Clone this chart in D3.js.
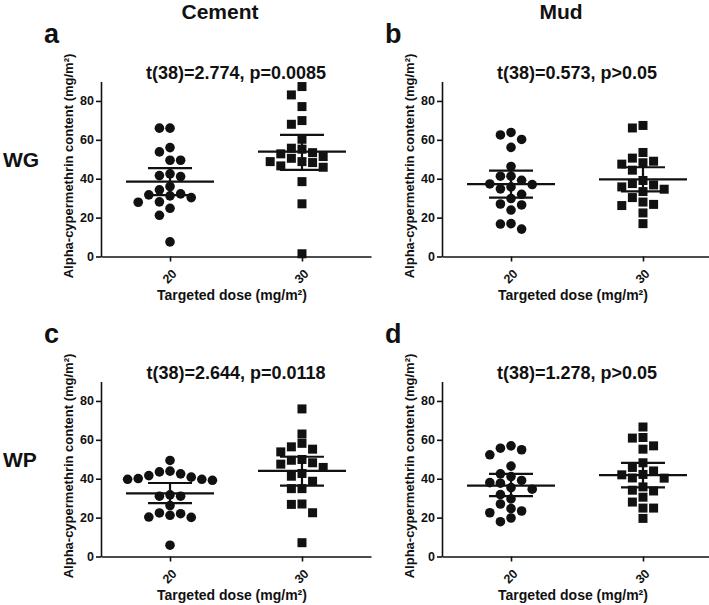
<!DOCTYPE html>
<html>
<head>
<meta charset="utf-8">
<script src="https://cdn.jsdelivr.net/npm/d3@7"></script>
<style>
  body { margin: 0; background: #fff; }
  text { font-family: "Liberation Sans", Arial, Helvetica, sans-serif; font-weight: bold; fill: #111; }
</style>
</head>
<body>
<div id="chart"></div>
<script>
// categories and tick labels
var doses = ["20", "30"];
var yTicks = [0, 20, 40, 60, 80];
var columnTitles = ["Cement", "Mud"];
var rowTitles = ["WG", "WP"];
var panelLetters = ["a", "b", "c", "d"];
var statLabels = ["t(38)=2.774, p=0.0085", "t(38)=0.573, p>0.05", "t(38)=2.644, p=0.0118", "t(38)=1.278, p>0.05"];

// alpha-cypermethrin content
var cementWG20 = [66, 66, 56, 53.8, 49.5, 49.5, 42.5, 41.1, 41.6, 36, 34.3, 31.7, 31.2, 32.2, 30.3, 28.1, 27.9, 24.8, 21.2, 7.5];
var cementWG30 = [87.4, 83.1, 77.1, 69.9, 68.0, 60.3, 55.2, 55.7, 53.4, 52.8, 51.4, 50.5, 48.8, 48.8, 48.3, 46.6, 45.9, 38.5, 27.1, 1.4];
var mudWG20 = [63.8, 62.5, 60.2, 56.1, 46.3, 41.3, 41.3, 39.2, 37.3, 37.0, 35.8, 34.8, 32.0, 29.8, 26.5, 27.0, 23.9, 16.9, 16.7, 14.1];
var mudWG30 = [67.4, 66.1, 53.5, 50.6, 49.0, 48.2, 47.5, 44.4, 39.1, 37.5, 36.8, 35.8, 34.6, 33.4, 30.3, 28.0, 26.8, 26.2, 22.4, 16.9];
var cementWP20 = [49.4, 41.6, 40.1, 39.7, 43.5, 39.2, 43.9, 39.7, 40.8, 42.5, 31.0, 31.0, 31.7, 26.2, 22.0, 20.3, 20.1, 21.2, 22.4, 5.8];
var cementWP30 = [75.9, 63.0, 58.2, 56.4, 55.2, 53.8, 49.9, 49.5, 48.2, 47.5, 45.8, 42.7, 41.3, 38.7, 34.9, 34.9, 26.8, 27.0, 22.5, 7.1];
var mudWP20 = [56.9, 54.9, 55.7, 52.3, 46.5, 41.1, 42.5, 38.0, 39.1, 37.7, 35.4, 34.6, 31.8, 29.6, 27.0, 24.6, 22.5, 23.4, 19.8, 17.9];
var mudWP30 = [66.6, 60.9, 61.2, 56.9, 55.2, 48.2, 45.8, 44.0, 42.2, 42.0, 40.4, 40.3, 35.8, 33.7, 34.1, 30.5, 28.0, 24.9, 24.9, 19.6];

// means with 95% CI (20, 30)
var meansA = [38.5, 53.9], lowA = [31.6, 44.5], highA = [45.4, 62.5];
var meansB = [37.2, 39.7], lowB = [30.3, 33.5], highB = [44.2, 45.9];
var meansC = [32.5, 44.0], lowC = [27.4, 36.5], highC = [37.8, 51.3];
var meansD = [36.5, 41.8], lowD = [31.0, 35.6], highD = [42.5, 48.2];

var panels = [
    {col: 0, row: 0, groups: [cementWG20, cementWG30], means: meansA, low: lowA, high: highA},
    {col: 1, row: 0, groups: [mudWG20, mudWG30], means: meansB, low: lowB, high: highB},
    {col: 0, row: 1, groups: [cementWP20, cementWP30], means: meansC, low: lowC, high: highC},
    {col: 1, row: 1, groups: [mudWP20, mudWP30], means: meansD, low: lowD, high: highD}
];

var svgWidth = 709, svgHeight = 605;
var colX = [101, 442];
var rowY = [0, 300];
var plotW = 270;

var svg = d3.select("#chart")
    .append("svg")
    .attr("width", svgWidth)
    .attr("height", svgHeight);

// column and row titles
svg.selectAll(".coltitle")
    .data(columnTitles)
    .enter()
    .append("text")
    .attr("x", (d, i) => colX[i] + 119)
    .attr("y", 19)
    .attr("text-anchor", "middle")
    .style("font-size", "21px")
    .text(d => d);

svg.selectAll(".rowtitle")
    .data(rowTitles)
    .enter()
    .append("text")
    .attr("x", 3)
    .attr("y", (d, i) => rowY[i] + 167)
    .style("font-size", "21px")
    .text(d => d);

// simple beeswarm: slots side by side, point placed in nearest free slot
function swarm(values, y, slot, gap) {
    var order = values.map((v, i) => i).sort((a, b) => values[b] - values[a]);
    var placed = [];
    var offs = new Array(values.length);
    order.forEach(i => {
        var py = y(values[i]);
        for (var k = 0; k < 20; k++) {
            var s = k === 0 ? 0 : (k % 2 === 1 ? -Math.ceil(k / 2) : k / 2);
            var clash = placed.some(p => p.s === s && Math.abs(p.y - py) < gap);
            if (!clash) {
                placed.push({s: s, y: py});
                offs[i] = s * slot;
                break;
            }
        }
    });
    return offs;
}

panels.forEach((p, pi) => {
    var x0 = colX[p.col];
    var top = rowY[p.row];

    var yScale = d3.scaleLinear()
        .domain([0, 90])
        .range([top + 256.5, top + 81.5]);

    var xScale = d3.scalePoint()
        .domain(doses)
        .range([x0, x0 + plotW])
        .padding(0.523)
        .align(0.5);

    var g = svg.append("g");

    // panel letter and stats
    g.append("text")
        .attr("x", x0 - 57)
        .attr("y", top + 43)
        .style("font-size", "27px")
        .text(panelLetters[pi]);

    g.append("text")
        .attr("x", x0 + plotW / 2)
        .attr("y", top + 79)
        .attr("text-anchor", "middle")
        .style("font-size", "18px")
        .text(statLabels[pi]);

    // axes
    var yAxis = g.append("g")
        .attr("transform", `translate(${x0}, 0)`)
        .call(d3.axisLeft(yScale).tickValues(yTicks).tickSize(5).tickSizeOuter(0).tickPadding(2));

    var xAxis = g.append("g")
        .attr("transform", `translate(0, ${yScale(0)})`)
        .call(d3.axisBottom(xScale).tickSize(5).tickSizeOuter(0));

    [yAxis, xAxis].forEach(a => {
        a.select(".domain").attr("stroke", "#111").attr("stroke-width", 1.6);
        a.selectAll(".tick line").attr("stroke", "#111").attr("stroke-width", 1.6);
        a.selectAll("text").style("font-size", "12.5px").attr("fill", "#111")
            .style("font-family", "'Liberation Sans', Arial, sans-serif").style("font-weight", "bold");
    });

    xAxis.selectAll(".tick text")
        .attr("text-anchor", "end")
        .attr("dy", null)
        .attr("y", null)
        .attr("transform", "translate(7, 18) rotate(-45)");

    // axis titles
    g.append("text")
        .attr("x", x0 + 131)
        .attr("y", top + 300)
        .attr("text-anchor", "middle")
        .style("font-size", "14px")
        .text("Targeted dose (mg/m\u00b2)");

    g.append("text")
        .attr("transform", `translate(${x0 - 28}, ${top + 166}) rotate(-90)`)
        .attr("text-anchor", "middle")
        .style("font-size", "13px")
        .text("Alpha-cypermethrin content (mg/m\u00b2)");

    // points
    p.groups.forEach((vals, gi) => {
        var offs = swarm(vals, yScale, 10.6, 9.2);
        var cx = xScale(doses[gi]);
        if (gi === 0) {
            g.selectAll(".pt" + gi)
                .data(vals)
                .enter()
                .append("circle")
                .attr("cx", (d, i) => cx + offs[i])
                .attr("cy", d => yScale(d))
                .attr("r", 4.8)
                .attr("fill", "#111");
        } else {
            g.selectAll(".pt" + gi)
                .data(vals)
                .enter()
                .append("rect")
                .attr("x", (d, i) => cx + offs[i] - 4.5)
                .attr("y", d => yScale(d) - 4.5)
                .attr("width", 9)
                .attr("height", 9)
                .attr("fill", "#111");
        }
    });

    // mean and CI
    doses.forEach((dose, gi) => {
        var cx = xScale(dose);
        var line = (x1, y1, x2, y2) => g.append("line")
            .attr("x1", x1).attr("y1", y1).attr("x2", x2).attr("y2", y2)
            .attr("stroke", "#111").attr("stroke-width", 2.2);
        line(cx - 44, yScale(p.means[gi]), cx + 44, yScale(p.means[gi]));
        line(cx - 22, yScale(p.low[gi]), cx + 22, yScale(p.low[gi]));
        line(cx - 22, yScale(p.high[gi]), cx + 22, yScale(p.high[gi]));
        line(cx, yScale(p.low[gi]), cx, yScale(p.high[gi]));
    });
});
</script>
</body>
</html>
